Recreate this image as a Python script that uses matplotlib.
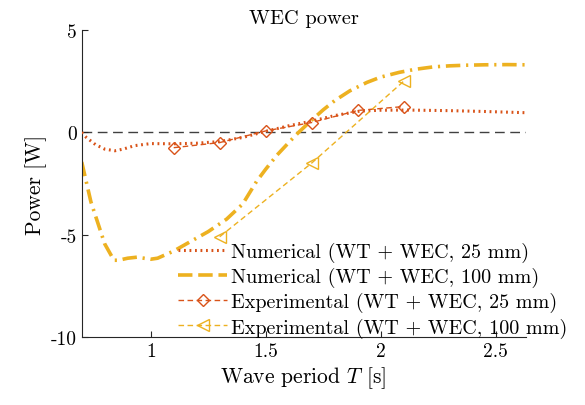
import matplotlib
matplotlib.use("Agg")
import matplotlib.pyplot as plt
from matplotlib.lines import Line2D

plt.rcParams.update({
    "font.family": "serif",
    "font.serif": ["cmr10"],
    "mathtext.fontset": "cm",
    "axes.unicode_minus": False,
    "axes.formatter.use_mathtext": True,
})

# Numerical model, 25 mm
num25_T = [0.70, 0.72, 0.76, 0.80, 0.844, 0.88, 0.93, 1.00, 1.10, 1.20, 1.30,
           1.40, 1.50, 1.60, 1.70, 1.80, 1.91, 2.00, 2.11, 2.30, 2.45, 2.63]
num25_P = [0.00, -0.25, -0.60, -0.82, -0.90, -0.82, -0.65, -0.55, -0.56, -0.53, -0.45,
           -0.25, 0.05, 0.32, 0.55, 0.82, 1.04, 1.08, 1.09, 1.06, 1.02, 0.96]

# Numerical model, 100 mm
num100_T = [0.70, 0.74, 0.80, 0.84, 0.86, 0.90, 0.94, 1.00, 1.03, 1.10, 1.155,
            1.25, 1.33, 1.40, 1.46, 1.50, 1.55, 1.60, 1.643, 1.70, 1.75, 1.80,
            1.866, 1.94, 2.00, 2.08, 2.15, 2.23, 2.30, 2.37, 2.45, 2.55, 2.63]
num100_P = [-1.45, -3.40, -5.45, -6.25, -6.25, -6.15, -6.10, -6.20, -6.15, -5.80, -5.45,
            -4.85, -4.24, -3.50, -2.40, -1.80, -1.10, -0.50, 0.00, 0.60, 1.10, 1.55,
            2.03, 2.44, 2.70, 2.93, 3.08, 3.20, 3.25, 3.28, 3.30, 3.31, 3.30]

# Experiments
exp25_T = [1.1, 1.3, 1.5, 1.7, 1.9, 2.1]
exp25_P = [-0.75, -0.50, 0.07, 0.48, 1.07, 1.26]
exp100_T = [1.3, 1.7, 2.1]
exp100_P = [-5.1, -1.5, 2.5]

labels = ["Numerical (WT + WEC, 25 mm)",
          "Numerical (WT + WEC, 100 mm)",
          "Experimental (WT + WEC, 25 mm)",
          "Experimental (WT + WEC, 100 mm)"]

x_ticks = [1, 1.5, 2, 2.5]
x_ticklabels = ["1", "1.5", "2", "2.5"]
y_ticks = [-10, -5, 0, 5]
y_ticklabels = ["-10", "-5", "0", "5"]

red = "#D95319"
yellow = "#EDB120"

fig = plt.figure(figsize=(5.85, 4.06), dpi=100)
ax = fig.add_axes([0.1397, 0.1675, 0.7588, 0.7561])

ax.axhline(0, color="#404040", lw=1.0, ls=(0, (7, 4)), zorder=1)

ax.plot(num25_T, num25_P, color=red, lw=2.2, ls=(0, (0.6, 1.2)), zorder=3)
ax.plot(num100_T, num100_P, color=yellow, lw=2.6, ls=(0, (4, 1.6, 0.6, 1.6)), zorder=2)
ax.plot(exp25_T, exp25_P, color=red, lw=1.0, ls=(0, (4, 2.5)), marker="D",
        markersize=6.5, markerfacecolor="none", markeredgecolor=red, markeredgewidth=1.0, zorder=4)
ax.plot(exp100_T, exp100_P, color=yellow, lw=1.0, ls=(0, (4, 2.5)), marker="<",
        markersize=8, markerfacecolor="none", markeredgecolor=yellow, markeredgewidth=1.0, zorder=4)

handles = [
    Line2D([], [], color=red, lw=2.2, ls=(0, (0.6, 1.2))),
    Line2D([], [], color=yellow, lw=2.6, ls=(0, (4, 1.6))),
    Line2D([], [], color=red, lw=1.0, ls=(0, (4, 2.5)), marker="D", markersize=6.5,
           markerfacecolor="none", markeredgecolor=red),
    Line2D([], [], color=yellow, lw=1.0, ls=(0, (4, 2.5)), marker="<", markersize=8,
           markerfacecolor="none", markeredgecolor=yellow),
]
fig.legend(handles, labels, loc="lower left", bbox_to_anchor=(0.305, 0.166),
           frameon=False, fontsize=14.5, handlelength=2.42, handletextpad=0.18,
           labelspacing=0.25, borderpad=0, borderaxespad=0)

ax.set_xlim(0.7, 2.63)
ax.set_ylim(-10, 5)
ax.set_xticks(x_ticks)
ax.set_xticklabels(x_ticklabels)
ax.set_yticks(y_ticks)
ax.set_yticklabels(y_ticklabels)
ax.tick_params(direction="in", length=4, width=0.8, labelsize=14, colors="#262626",
               labelcolor="black")
for s in ("top", "right"):
    ax.spines[s].set_visible(False)
for s in ("left", "bottom"):
    ax.spines[s].set_color("#262626")
    ax.spines[s].set_linewidth(0.8)

ax.set_title("WEC power", fontsize=14.7, pad=5)
ax.set_xlabel("Wave period $T$ [s]", fontsize=15.5, labelpad=3)
ax.set_ylabel("Power [W]", fontsize=15.5, labelpad=3)

fig.savefig("out.png", dpi=100)
